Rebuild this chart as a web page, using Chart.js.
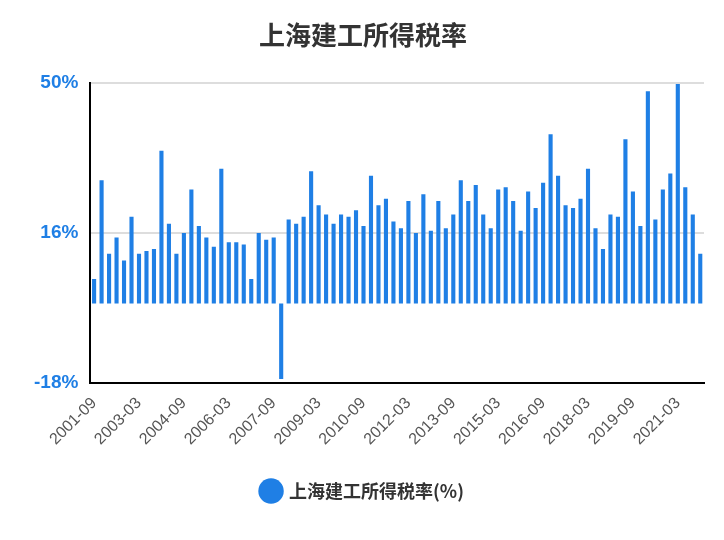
<!DOCTYPE html>
<html>
<head>
<meta charset="utf-8">
<script src="https://cdn.jsdelivr.net/npm/chart.js@4"></script>
<style>
  html, body { margin: 0; padding: 0; background: #fff; }
  #wrap { width: 724px; height: 540px; }
</style>
</head>
<body>
<div id="wrap"><canvas id="taxChart"></canvas></div>
<script>
const seriesName = '上海建工所得税率(%)';

// quarterly periods 2001-09 .. 2021-12
const quarters = [];
for (let y = 2001; y <= 2021; y++) {
    ['03', '06', '09', '12'].forEach(m => {
        if (y === 2001 && (m === '03' || m === '06')) return;
        quarters.push(y + '-' + m);
    });
}

const taxRate = [
    5.6, 28.0, 11.3, 15.0, 9.8, 19.7, 11.3, 11.9, 12.4, 34.7,
    18.1, 11.3, 16.0, 25.9, 17.6, 15.0, 12.9, 30.6, 13.9, 13.9,
    13.4, 5.6, 16.0, 14.5, 15.0, -17.1, 19.1, 18.1, 19.7, 30.0,
    22.3, 20.2, 18.1, 20.2, 19.7, 21.2, 17.6, 29.0, 22.3, 23.8,
    18.6, 17.1, 23.3, 16.0, 24.8, 16.5, 23.3, 17.1, 20.2, 28.0,
    23.3, 26.9, 20.2, 17.1, 25.9, 26.4, 23.3, 16.5, 25.4, 21.7,
    27.4, 38.4, 29.0, 22.3, 21.7, 23.8, 30.6, 17.1, 12.4, 20.2,
    19.7, 37.3, 25.4, 17.6, 48.2, 19.1, 25.9, 29.5, 49.8, 26.4,
    20.2, 11.3
];

const yTicks = [-18, 16, 50];
const barColor = '#1f7fe5';

new Chart(document.getElementById('taxChart'), {
    type: 'bar',
    data: {
        labels: quarters,
        datasets: [{
            label: seriesName,
            data: taxRate,
            backgroundColor: barColor,
            borderWidth: 0,
            barPercentage: 0.55,
            categoryPercentage: 1,
        }],
    },
    options: {
        responsive: true,
        maintainAspectRatio: false,
        animation: false,
        layout: { padding: { left: 22, right: 20, top: 0, bottom: 30 } },
        plugins: {
            title: {
                display: true,
                text: '上海建工所得税率',
                color: '#333',
                font: { size: 26, family: 'Noto Sans CJK SC', weight: 'bold' },
                padding: { top: 20, bottom: 32 },
            },
            legend: {
                position: 'bottom',
                labels: {
                    usePointStyle: true,
                    pointStyle: 'circle',
                    boxWidth: 20,
                    boxHeight: 20,
                    color: '#333',
                    padding: 30,
                    font: { size: 18, family: 'Noto Sans CJK SC', weight: 'bold' },
                },
            },
            tooltip: { enabled: false },
        },
        scales: {
            x: {
                grid: { display: false, drawTicks: true },
                border: { color: '#000', width: 2 },
                afterBuildTicks: function(axis) {
                    axis.ticks = axis.ticks.filter(t => t.value % 6 === 0);
                },
                ticks: {
                    autoSkip: false,
                    maxRotation: 45,
                    minRotation: 45,
                    color: '#555',
                    font: { size: 16, family: 'Liberation Sans' },
                    callback: value => quarters[value],
                },
            },
            y: {
                min: yTicks[0],
                max: yTicks[2],
                border: { color: '#000', width: 2 },
                grid: {
                    color: ctx => ctx.tick && ctx.tick.value === yTicks[0] ? 'transparent' : '#ddd',
                    drawTicks: false,
                    lineWidth: 2,
                },
                afterBuildTicks: function(axis) {
                    axis.ticks = yTicks.map(v => ({ value: v }));
                },
                ticks: {
                    color: barColor,
                    padding: 12,
                    font: { size: 19, family: 'Liberation Sans', weight: 'bold' },
                    callback: v => v + '%',
                },
            },
        },
    },
});
</script>
</body>
</html>
